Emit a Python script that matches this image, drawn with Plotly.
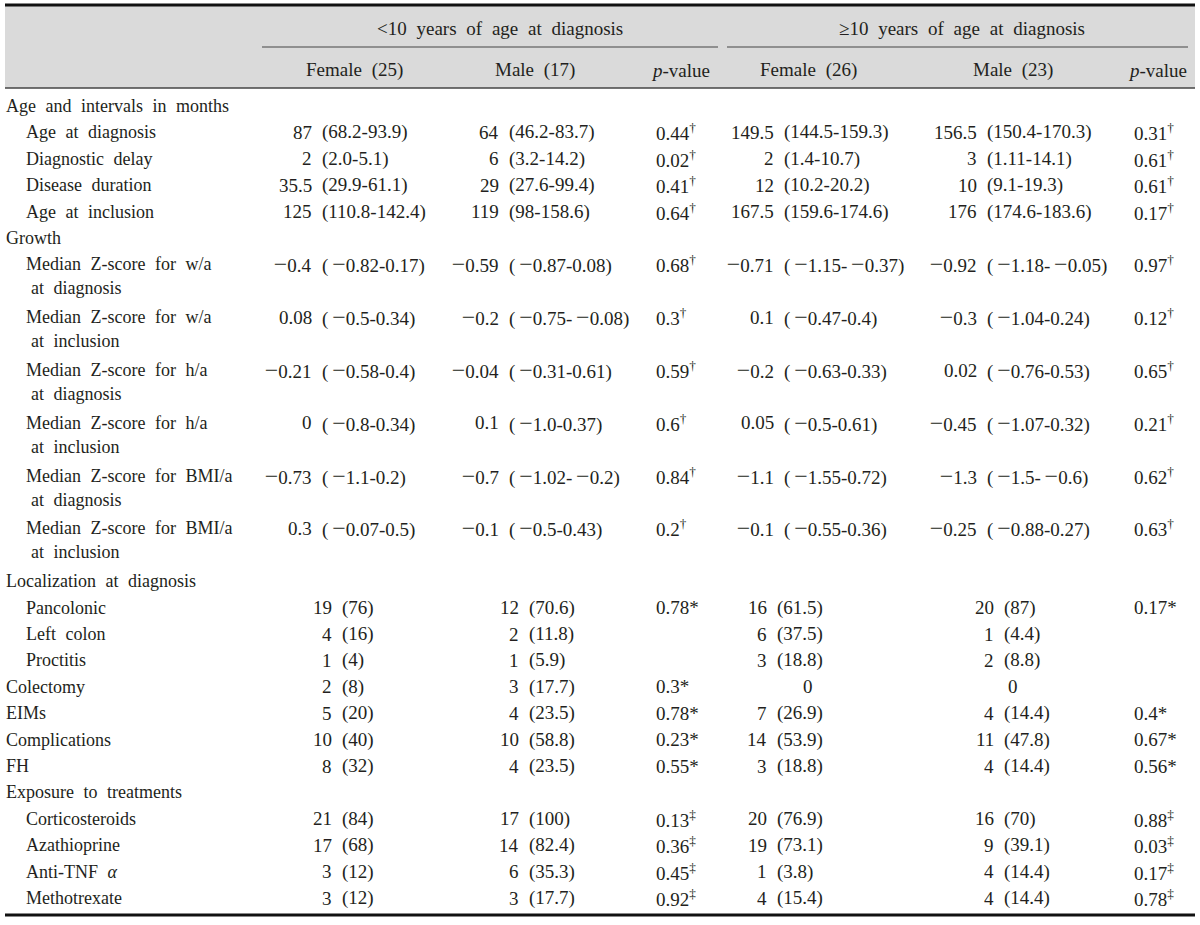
import plotly.graph_objects as go

# ---------------- data ----------------
labels = [
    "Age and intervals in months", "Age at diagnosis", "Diagnostic delay", "Disease duration",
    "Age at inclusion", "Growth",
    "Median Z-score for w/a", "Median Z-score for w/a", "Median Z-score for h/a",
    "Median Z-score for h/a", "Median Z-score for BMI/a", "Median Z-score for BMI/a",
    "Localization at diagnosis", "Pancolonic", "Left colon", "Proctitis",
    "Colectomy", "EIMs", "Complications", "FH",
    "Exposure to treatments", "Corticosteroids", "Azathioprine", "Anti-TNF <i>α</i>", "Methotrexate",
]
label_line2 = [
    "", "", "", "", "", "",
    "at diagnosis", "at inclusion", "at diagnosis", "at inclusion", "at diagnosis", "at inclusion",
    "", "", "", "", "", "", "", "", "", "", "", "", "",
]
levels = [0, 1, 1, 1, 1, 0, 1, 1, 1, 1, 1, 1, 0, 1, 1, 1, 0, 0, 0, 0, 0, 1, 1, 1, 1]

female_lt10 = [
    "", "87 (68.2-93.9)", "2 (2.0-5.1)", "35.5 (29.9-61.1)", "125 (110.8-142.4)", "",
    "−0.4 (−0.82-0.17)", "0.08 (−0.5-0.34)", "−0.21 (−0.58-0.4)", "0 (−0.8-0.34)",
    "−0.73 (−1.1-0.2)", "0.3 (−0.07-0.5)",
    "", "19 (76)", "4 (16)", "1 (4)", "2 (8)", "5 (20)", "10 (40)", "8 (32)",
    "", "21 (84)", "17 (68)", "3 (12)", "3 (12)",
]
male_lt10 = [
    "", "64 (46.2-83.7)", "6 (3.2-14.2)", "29 (27.6-99.4)", "119 (98-158.6)", "",
    "−0.59 (−0.87-0.08)", "−0.2 (−0.75-−0.08)", "−0.04 (−0.31-0.61)", "0.1 (−1.0-0.37)",
    "−0.7 (−1.02-−0.2)", "−0.1 (−0.5-0.43)",
    "", "12 (70.6)", "2 (11.8)", "1 (5.9)", "3 (17.7)", "4 (23.5)", "10 (58.8)", "4 (23.5)",
    "", "17 (100)", "14 (82.4)", "6 (35.3)", "3 (17.7)",
]
p_lt10 = [
    "", "0.44", "0.02", "0.41", "0.64", "",
    "0.68", "0.3", "0.59", "0.6", "0.84", "0.2",
    "", "0.78", "", "", "0.3", "0.78", "0.23", "0.55",
    "", "0.13", "0.36", "0.45", "0.92",
]
mark_lt10 = [
    "", "†", "†", "†", "†", "",
    "†", "†", "†", "†", "†", "†",
    "", "*", "", "", "*", "*", "*", "*",
    "", "‡", "‡", "‡", "‡",
]
female_ge10 = [
    "", "149.5 (144.5-159.3)", "2 (1.4-10.7)", "12 (10.2-20.2)", "167.5 (159.6-174.6)", "",
    "−0.71 (−1.15-−0.37)", "0.1 (−0.47-0.4)", "−0.2 (−0.63-0.33)", "0.05 (−0.5-0.61)",
    "−1.1 (−1.55-0.72)", "−0.1 (−0.55-0.36)",
    "", "16 (61.5)", "6 (37.5)", "3 (18.8)", "0", "7 (26.9)", "14 (53.9)", "3 (18.8)",
    "", "20 (76.9)", "19 (73.1)", "1 (3.8)", "4 (15.4)",
]
male_ge10 = [
    "", "156.5 (150.4-170.3)", "3 (1.11-14.1)", "10 (9.1-19.3)", "176 (174.6-183.6)", "",
    "−0.92 (−1.18-−0.05)", "−0.3 (−1.04-0.24)", "0.02 (−0.76-0.53)", "−0.45 (−1.07-0.32)",
    "−1.3 (−1.5-−0.6)", "−0.25 (−0.88-0.27)",
    "", "20 (87)", "1 (4.4)", "2 (8.8)", "0", "4 (14.4)", "11 (47.8)", "4 (14.4)",
    "", "16 (70)", "9 (39.1)", "4 (14.4)", "4 (14.4)",
]
p_ge10 = [
    "", "0.31", "0.61", "0.61", "0.17", "",
    "0.97", "0.12", "0.65", "0.21", "0.62", "0.63",
    "", "0.17", "", "", "", "0.4", "0.67", "0.56",
    "", "0.88", "0.03", "0.17", "0.78",
]
mark_ge10 = [
    "", "†", "†", "†", "†", "",
    "†", "†", "†", "†", "†", "†",
    "", "*", "", "", "", "*", "*", "*",
    "", "‡", "‡", "‡", "‡",
]
group_headers = ["&lt;10 years of age at diagnosis", "≥10 years of age at diagnosis"]
sub_headers = ["Female (25)", "Male (17)", "<i>p</i>-value", "Female (26)", "Male (23)", "<i>p</i>-value"]

# ---------------- layout constants ----------------
W, H = 1200, 925
FONT = "Liberation Serif"
FS = 19
FS_LABEL = 18
INK = "#231f20"
TOP_Y, GROUP_Y, SUBLINE_Y, SUB_Y, HEAD_LINE_Y = 5, 28, 47, 70, 88
BODY_Y0, PITCH, CONT = 106, 26.4, 24
BOTTOM_Y = 915
LEFT, RIGHT = 5, 1195

col_centers = [354, 535, 680, 808, 1013, 1157]
group_centers = [500, 962]
group_spans = [(262, 718), (727, 1188)]
anchors_upper = [313, 500, None, 775, 978]
anchors_lower = [333, 520, None, 768, 995]
GAP = 8
p_left = [655, 1133]
MINUS_HTML = "\u2009<span style=\"font-size:24px\">−</span>"
WORD_SPACING = 5

ann = []


def fmt(t):
    return t.replace("−", MINUS_HTML)


def spaced(t):
    return f"<span style=\"word-spacing:{WORD_SPACING}px\">{t}</span>"


def add(x, y, text, xa="left", size=FS):
    ann.append(dict(x=x, y=y, xref="x", yref="y", text=fmt(text), showarrow=False,
                    xanchor=xa, yanchor="middle", borderpad=0,
                    font=dict(family=FONT, size=size, color=INK)))


# headers
for cx, t in zip(group_centers, group_headers):
    add(cx, GROUP_Y, spaced(t), "center")
for cx, t in zip(col_centers, sub_headers):
    add(cx, SUB_Y, spaced(t), "center")

# body
line_y = []
y = BODY_Y0
for i in range(len(labels)):
    line_y.append(y)
    y += PITCH
    if label_line2[i]:
        y += PITCH

lower_start = labels.index("Localization at diagnosis")

for i, lab in enumerate(labels):
    yy = line_y[i]
    add(LEFT + (20 if levels[i] else 0), yy, spaced(lab), size=FS_LABEL)
    if label_line2[i]:
        add(LEFT + 25, yy + CONT, spaced(label_line2[i]), size=FS_LABEL)
    anchors = anchors_lower if i >= lower_start else anchors_upper
    for ci, col in enumerate([female_lt10, male_lt10, None, female_ge10, male_ge10]):
        if col is None:
            continue
        v = col[i]
        if not v:
            continue
        if " " in v:
            num, rest = v.split(" ", 1)
            add(anchors[ci], yy, num, "right")
            add(anchors[ci] + GAP, yy, rest, "left")
        else:
            add(col_centers[ci], yy, v, "center")
    for k, (pv, mk) in enumerate([(p_lt10, mark_lt10), (p_ge10, mark_ge10)]):
        if pv[i]:
            m = mk[i]
            txt = pv[i] + ("*" if m == "*" else (f"<sup>{m}</sup>" if m else ""))
            add(p_left[k], yy, txt, "left")

shapes = [
    dict(type="rect", xref="x", yref="y", x0=LEFT, x1=RIGHT, y0=TOP_Y, y1=HEAD_LINE_Y,
         fillcolor="#dadada", line=dict(width=0), layer="below"),
    dict(type="line", xref="x", yref="y", x0=LEFT, x1=RIGHT, y0=TOP_Y, y1=TOP_Y,
         line=dict(color="#111111", width=3)),
    dict(type="line", xref="x", yref="y", x0=LEFT, x1=RIGHT, y0=HEAD_LINE_Y, y1=HEAD_LINE_Y,
         line=dict(color="#444444", width=1.5)),
    dict(type="line", xref="x", yref="y", x0=LEFT, x1=RIGHT, y0=BOTTOM_Y, y1=BOTTOM_Y,
         line=dict(color="#111111", width=3)),
]
for x0, x1 in group_spans:
    shapes.append(dict(type="line", xref="x", yref="y", x0=x0, x1=x1, y0=SUBLINE_Y, y1=SUBLINE_Y,
                       line=dict(color="#444444", width=1)))

fig = go.Figure()
fig.update_layout(
    width=W, height=H, margin=dict(l=0, r=0, t=0, b=0),
    paper_bgcolor="white", plot_bgcolor="white",
    xaxis=dict(range=[0, W], visible=False, fixedrange=True),
    yaxis=dict(range=[H, 0], visible=False, fixedrange=True),
    annotations=ann, shapes=shapes, showlegend=False,
)
fig.write_html(
    "out.html",
    config={"displayModeBar": False},
    post_script="document.body.style.margin='0';document.body.style.overflow='hidden';",
)
